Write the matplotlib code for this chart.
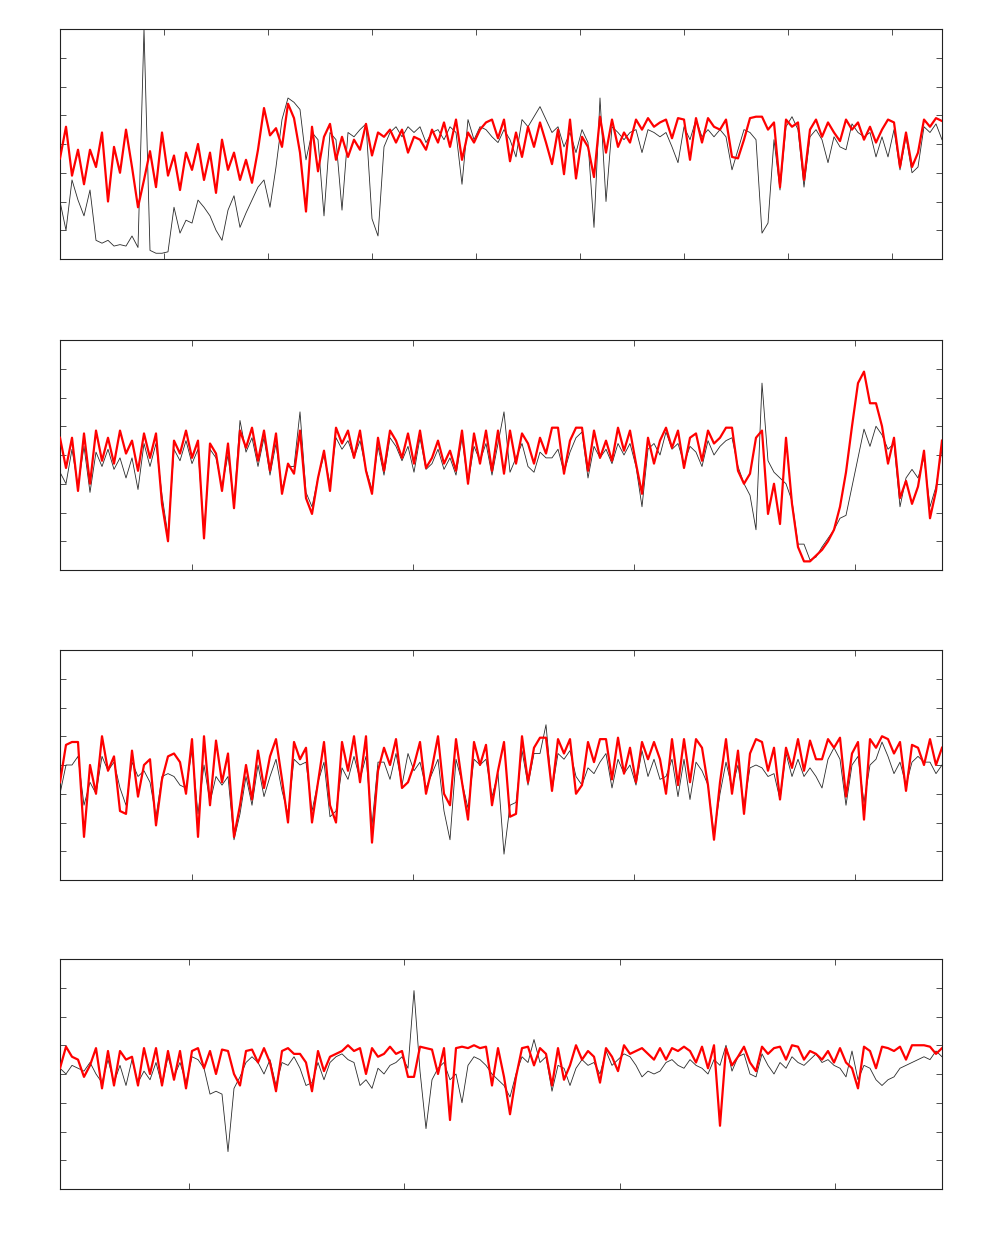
import numpy as np
import matplotlib
matplotlib.use("Agg")
import matplotlib.pyplot as plt

# ---------------- data (y in axis units 0..8, evenly spaced samples) ----------------
p1_red = [3.5,4.6,2.9,3.8,2.6,3.8,3.2,4.4,2.0,3.9,3.0,4.5,3.2,1.8,2.75,3.75,2.5,4.4,2.9,3.6,2.4,3.7,3.1,4.0,2.75,3.7,2.3,4.15,3.1,3.7,2.75,3.45,2.65,3.8,5.25,4.3,4.55,3.9,5.4,4.9,3.7,1.65,4.6,3.05,4.25,4.7,3.45,4.25,3.55,4.15,3.8,4.7,3.6,4.4,
          4.25,4.5,4.05,4.5,3.7,4.25,4.15,3.8,4.5,4.05,4.75,3.9,4.85,3.45,4.4,4.05,4.5,4.75,4.85,4.2,4.85,3.4,4.4,3.55,4.6,3.9,4.75,4.05,3.3,4.5,2.95,4.85,2.8,4.25,3.9,2.85,4.95,3.7,4.85,3.9,4.4,4.05,4.85,4.5,4.9,4.6,
          4.75,4.85,4.2,4.9,4.85,3.45,4.9,4.05,4.9,4.6,4.5,4.85,3.55,3.5,4.15,4.9,4.95,4.95,4.5,4.75,2.5,4.85,4.6,4.75,2.75,4.5,4.85,4.25,4.75,4.4,4.1,4.85,4.5,4.75,4.15,4.6,4.05,4.5,4.85,4.75,3.2,4.4,3.2,3.7,4.85,4.6,4.9,4.8]
p1_black = [2.0,1.0,2.75,2.05,1.5,2.4,0.65,0.55,0.65,0.45,0.5,0.45,0.8,0.4,8.0,0.3,0.2,0.2,0.25,1.8,0.9,1.35,1.25,2.05,1.8,1.5,1.0,0.65,1.7,2.2,1.1,1.6,2.05,2.5,2.75,1.8,3.2,4.85,5.6,5.45,5.2,3.45,4.4,4.15,1.5,4.4,4.15,1.7,4.4,4.25,4.5,4.7,1.4,0.8,
            3.9,4.4,4.6,4.25,4.6,4.4,4.6,4.05,4.4,4.5,4.15,4.6,4.4,2.6,4.85,4.15,4.6,4.5,4.25,4.05,4.5,4.15,3.55,4.85,4.6,4.95,5.3,4.85,4.4,4.6,3.9,4.4,3.7,4.5,4.05,1.1,5.6,2.0,4.6,4.4,4.15,4.4,4.5,3.7,4.5,4.4,
            4.25,4.4,3.9,3.35,4.6,4.15,4.85,4.25,4.5,4.25,4.5,4.25,3.1,3.8,4.5,4.4,4.15,0.9,1.25,4.15,2.4,4.6,4.95,4.5,2.5,4.25,4.5,4.15,3.35,4.25,3.9,3.8,4.7,4.4,4.25,4.4,3.55,4.25,3.55,4.5,3.1,4.25,3.0,3.2,4.6,4.4,4.7,4.15]

p2_red = [4.6,3.55,4.6,2.75,4.75,3.0,4.85,3.8,4.6,3.7,4.85,4.05,4.5,3.45,4.75,3.9,4.75,2.3,1.0,4.5,4.05,4.85,3.9,4.5,1.1,4.4,4.05,2.75,4.4,2.15,4.85,4.25,4.95,3.8,4.85,3.45,4.75,2.65,3.7,3.35,4.85,2.5,1.95,3.2,4.15,2.75,4.95,4.4,4.85,3.9,4.85,3.45,2.65,4.6,
          3.45,4.85,4.5,3.9,4.75,3.7,4.85,3.55,3.9,4.5,3.7,4.15,3.45,4.85,3.0,4.75,3.7,4.85,3.45,4.85,3.35,4.85,3.7,4.75,4.4,3.7,4.6,4.05,4.95,4.95,3.35,4.5,4.95,4.95,3.45,4.85,3.9,4.5,3.8,4.95,4.15,4.85,3.7,2.65,4.6,3.7,
          4.5,4.95,4.25,4.85,3.55,4.6,4.75,3.8,4.85,4.4,4.6,4.95,4.95,3.45,3.0,3.35,4.6,4.85,1.95,3.0,1.6,4.6,2.3,0.8,0.3,0.3,0.5,0.7,1.0,1.4,2.2,3.4,5.0,6.5,6.9,5.8,5.8,5.0,3.7,4.6,2.5,3.1,2.3,2.9,4.15,1.8,2.75,4.5]
p2_black = [3.4,3.0,4.2,2.9,4.3,2.7,4.1,3.6,4.2,3.5,3.9,3.2,3.9,2.8,4.4,3.6,4.4,2.6,1.2,4.2,3.8,4.5,3.7,4.2,1.3,4.2,3.9,2.9,4.0,2.3,5.2,4.1,4.6,3.6,4.6,3.3,4.4,2.8,3.6,3.6,5.5,2.7,2.2,3.2,4.0,3.0,4.6,4.2,4.5,3.9,4.5,3.5,2.8,4.3,
            3.3,4.6,4.3,3.8,4.3,3.4,4.6,3.5,3.7,4.2,3.5,3.9,3.3,4.6,3.0,4.3,3.8,4.4,3.3,4.4,5.5,3.4,3.9,4.4,3.6,3.4,4.1,3.9,3.9,4.2,3.4,4.1,4.6,4.8,3.2,4.3,3.9,4.2,3.7,4.4,4.0,4.4,3.6,2.2,4.2,4.4,
            4.0,4.8,4.2,4.4,3.7,4.3,4.1,3.6,4.5,4.0,4.3,4.5,4.6,3.6,3.0,2.6,1.4,6.5,3.8,3.4,3.2,3.0,2.4,0.9,0.9,0.35,0.45,0.8,1.1,1.4,1.8,1.9,2.9,3.9,4.9,4.3,5.0,4.7,4.2,4.4,2.2,3.2,3.5,3.2,3.9,2.2,2.9,4.2]

p3_red = [3.4,4.7,4.8,4.8,1.5,4.0,3.0,5.0,3.8,4.3,2.4,2.3,4.5,2.9,4.0,4.2,1.9,3.5,4.3,4.4,4.1,3.0,4.9,1.5,5.0,2.6,4.85,3.4,4.4,1.5,2.6,4.0,2.8,4.5,3.2,4.3,4.9,3.5,2.0,4.8,4.2,4.6,2.0,3.4,4.8,2.6,2.0,4.8,3.8,5.0,3.4,5.0,1.3,3.8,
          4.6,4.0,4.9,3.2,3.4,4.0,4.8,3.0,3.9,5.0,3.0,2.6,4.9,3.4,2.1,4.8,4.0,4.7,2.6,3.8,4.8,2.2,2.3,5.0,3.4,4.6,4.95,4.95,3.1,4.9,4.4,4.9,3.0,3.3,4.8,4.1,4.9,4.9,3.5,4.95,3.7,4.6,3.4,4.8,4.2,4.8,
          4.2,3.0,4.9,3.3,4.9,3.4,4.9,4.6,3.3,1.4,3.4,4.9,3.0,4.5,2.3,4.4,4.9,4.8,3.8,4.6,2.8,4.6,3.9,4.9,3.8,4.85,4.2,4.2,4.9,4.6,4.95,2.9,4.4,4.8,2.1,4.9,4.6,5.0,4.9,4.4,4.8,3.1,4.7,4.6,4.0,4.9,4.0,4.6]
p3_black = [3.0,4.0,4.0,4.3,2.6,3.4,3.0,4.3,3.8,4.1,3.2,2.6,4.1,3.6,3.8,3.4,2.2,3.6,3.7,3.6,3.3,3.2,4.5,2.3,4.0,2.7,3.6,3.3,3.6,1.4,2.3,3.6,2.6,4.0,2.9,3.6,4.2,3.1,2.3,4.2,4.0,4.1,2.4,3.4,4.1,2.2,2.4,3.9,3.5,4.3,3.5,4.3,1.9,4.1,
            4.1,3.5,4.4,3.3,4.4,3.8,4.1,3.2,3.7,4.2,2.4,1.4,4.2,3.4,2.5,4.2,4.0,4.2,2.9,3.7,0.9,2.6,2.7,4.5,3.3,4.4,4.4,5.4,3.1,4.4,4.2,4.5,3.6,3.3,3.9,3.7,4.1,4.4,3.2,4.2,3.7,4.0,3.3,4.5,3.6,4.2,
            3.5,3.6,4.2,2.9,4.2,2.8,4.1,3.8,3.3,1.6,3.0,4.1,3.2,4.0,2.6,3.9,4.0,3.9,3.6,3.7,2.8,4.4,3.6,4.2,3.6,3.9,3.6,3.2,4.2,4.6,4.2,2.6,4.0,4.3,2.7,4.0,4.2,4.8,4.3,3.7,4.1,3.3,4.1,4.3,4.1,4.1,3.7,4.0]

p4_red = [4.2,4.95,4.6,4.5,3.9,4.3,4.9,3.5,4.8,3.6,4.8,4.5,4.6,3.6,4.9,4.0,4.9,3.6,4.8,3.8,4.8,3.5,4.8,4.9,4.2,4.8,4.0,4.85,4.8,4.0,3.6,4.8,4.85,4.4,4.9,4.4,3.4,4.8,4.9,4.7,4.7,4.4,3.4,4.8,4.1,4.6,4.7,4.8,5.0,4.8,4.9,4.0,4.9,4.6,
          4.7,4.95,4.7,4.8,3.9,3.9,4.95,4.9,4.85,4.0,4.9,2.4,4.9,4.95,4.9,5.0,4.9,4.95,3.6,4.9,3.9,2.6,3.9,4.9,4.95,4.3,4.9,4.7,3.6,4.9,3.8,4.3,5.0,4.5,4.8,4.6,3.7,4.9,4.6,4.1,5.0,4.7,4.8,4.9,4.7,4.5,
          4.9,4.5,4.9,4.8,4.95,4.8,4.4,4.95,4.2,5.0,2.2,4.9,4.3,4.6,4.95,4.4,4.1,4.95,4.7,4.9,4.95,4.5,5.0,4.95,4.5,4.8,4.7,4.5,4.8,4.4,4.9,4.4,4.2,3.5,4.95,4.8,4.2,4.95,4.9,4.8,4.95,4.5,5.0,5.0,5.0,4.95,4.7,4.9]
p4_black = [4.2,4.0,4.3,4.2,4.1,4.4,4.0,3.7,4.5,3.7,4.3,3.6,4.5,3.7,4.1,3.8,4.4,3.6,4.6,3.9,4.4,3.7,4.6,4.5,4.2,3.3,3.4,3.3,1.3,3.5,3.9,4.4,4.6,4.4,4.0,4.5,3.6,4.4,4.3,4.6,4.2,3.6,3.7,4.4,3.8,4.4,4.6,4.7,4.5,4.4,3.6,3.8,3.5,4.2,
            4.0,4.3,4.4,4.6,4.2,6.9,4.1,2.1,3.8,4.2,4.4,3.8,4.0,3.0,4.3,4.6,4.5,4.3,4.0,3.8,3.6,3.2,4.0,4.6,4.4,5.2,4.4,4.6,3.4,4.3,4.2,3.6,4.2,4.5,4.3,4.4,4.0,4.8,4.3,4.5,4.7,4.6,4.3,3.9,4.1,4.0,
            4.1,4.4,4.5,4.3,4.2,4.5,4.3,4.2,4.0,4.5,4.3,5.0,4.1,4.6,4.7,4.0,3.9,4.7,4.3,4.0,4.4,4.2,4.6,4.4,4.3,4.5,4.7,4.4,4.5,4.3,4.2,3.9,4.8,3.8,4.3,4.2,3.8,3.6,3.8,3.9,4.2,4.3,4.4,4.5,4.6,4.5,4.8,4.6]

# x ranges and tick positions per panel
xlims = [(0, 848), (0, 399), (0, 399), (0, 409.7)]
xticks = [[100, 200, 300, 400, 500, 600, 700, 800],
          [59.7, 159.7, 259.7, 359.7],
          [59.7, 159.7, 259.7, 359.7],
          [59.9, 159.8, 260.1, 360.0]]
series = [(p1_black, p1_red), (p2_black, p2_red), (p3_black, p3_red), (p4_black, p4_red)]

# ---------------- figure ----------------
fig = plt.figure(figsize=(10.03, 12.40), dpi=100)
W, H = 1003.0, 1240.0
tops = [29, 340, 650, 959]
for k, (blk, red) in enumerate(series):
    top = tops[k]
    ax = fig.add_axes([60 / W, 1 - (top + 230) / H, 882 / W, 230 / H])
    x0, x1 = xlims[k]
    xb = np.linspace(x0, x1, len(blk))
    xr = np.linspace(x0, x1, len(red))
    ax.plot(xb, blk, color='#2a2a2a', lw=0.6, zorder=2)
    ax.plot(xr, red, color='#ff0000', lw=1.6, zorder=3)
    ax.set_xlim(x0, x1)
    ax.set_ylim(0, 8)
    ax.set_xticks(xticks[k])
    ax.set_yticks([1, 2, 3, 4, 5, 6, 7])
    ax.tick_params(direction='in', top=True, right=True, length=4.5, width=0.6,
                   colors='#333333', labelbottom=False, labelleft=False)
    for s in ax.spines.values():
        s.set_linewidth(0.8)
        s.set_color('#222222')

fig.savefig('out.png', dpi=100)
